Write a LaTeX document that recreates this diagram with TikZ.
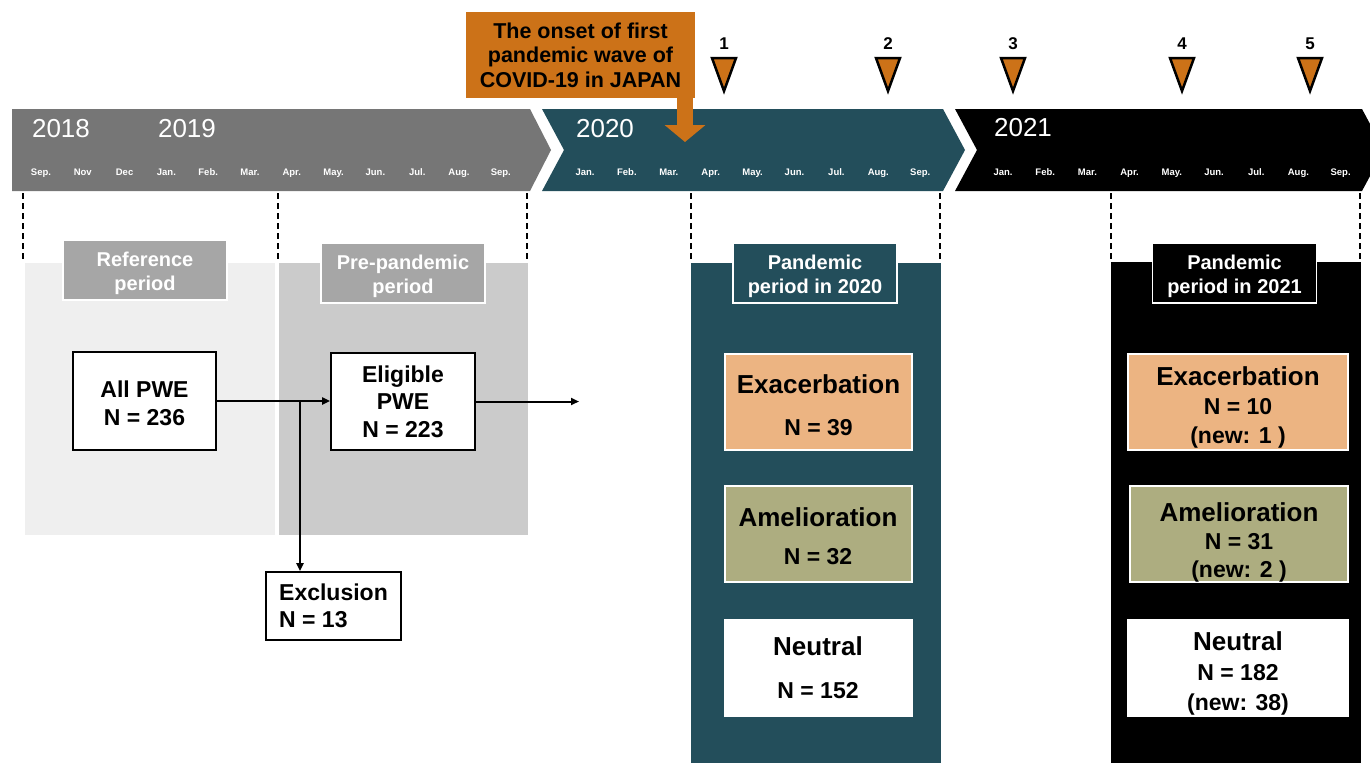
\documentclass[tikz,border=0pt]{standalone}
\usepackage{fontspec}
\setmainfont{Liberation Sans}
\usetikzlibrary{positioning,arrows.meta}
\definecolor{Band}{HTML}{767676}
\definecolor{Teal}{HTML}{234E5B}
\definecolor{RefFill}{HTML}{EFEFEF}
\definecolor{PreFill}{HTML}{CBCBCB}
\definecolor{TagGray}{HTML}{A6A6A6}
\definecolor{Onset}{HTML}{CC7218}
\definecolor{Peach}{HTML}{ECB482}
\definecolor{Olive}{HTML}{ADAD80}
\newcommand\catfont{\fontsize{26}{30}\selectfont}
% taller first line, pushes the text block down in its box
\newcommand\toppad[1]{\rule{0pt}{#1}}

\begin{document}
\begin{tikzpicture}[x=1pt, y=-1pt, every node/.style={font=\bfseries}]
  \tikzstyle{year}=[text=white, font=\fontsize{26}{30}\selectfont]
  \tikzstyle{month}=[text=white, anchor=base, font=\fontsize{9.5}{11}\selectfont\bfseries]
  \tikzstyle{cut}=[line width=1.5pt, dash pattern=on 6pt off 4pt]
  \tikzstyle{tag}=[draw=white, line width=1.5pt, text=white, minimum width=164, minimum height=60, align=center, font=\fontsize{20}{24}\selectfont\bfseries]
  \tikzstyle{box}=[draw=black, line width=1.8pt, fill=white, align=center, inner sep=0, font=\fontsize{23}{27.5}\selectfont\bfseries]
  \tikzstyle{cat}=[draw=white, line width=2pt, minimum width=187, minimum height=96, align=center, inner sep=0, font=\fontsize{23}{28}\selectfont\bfseries]
  \tikzstyle{flow}=[-{Triangle[length=8pt, width=7pt]}, line width=2pt]
  \tikzstyle{onset}=[fill=Onset, minimum width=229, minimum height=86, inner sep=0, align=center, font=\fontsize{21.5}{24.5}\selectfont\bfseries]
  \tikzstyle{onsetarrow}=[draw=Onset, line width=16pt, -{Triangle[width=40pt, length=17pt]}]
  \tikzstyle{wave}=[fill=Onset, draw=black, line width=2.5pt]
  \tikzstyle{wavenum}=[font=\fontsize{17}{20}\selectfont\bfseries]

  \useasboundingbox (0,0) rectangle (1370,763);

  % timeline
  \fill[Band] (12,109) -- (530,109) -- (551,150) -- (530,191) -- (12,191) -- cycle;
  \fill[Teal] (542,109) -- (943,109) -- (965,150) -- (943,191) -- (542,191) -- (564,150) -- cycle;
  \fill[black] (955,109) -- (1362,109) -- (1384,150) -- (1362,191) -- (955,191) -- (977,150) -- cycle;

  \node[year] (y18) at (61,129) {2018};
  \node[year] (y19) at (187,129) {2019};
  \node[year] (y20) at (605,129) {2020};
  \node[year] (y21) at (1023,128) {2021};

  \foreach \m [count=\i from 0] in {Sep.,Nov,Dec,Jan.,Feb.,Mar.,Apr.,May.,Jun.,Jul.,Aug.,Sep.}
    \node[month] (ma\i) at ({41+41.8*\i},175) {\m};
  \foreach \m [count=\i from 0] in {Jan.,Feb.,Mar.,Apr.,May.,Jun.,Jul.,Aug.,Sep.}
    \node[month] (mb\i) at ({585+41.9*\i},175) {\m};
  \foreach \m [count=\i from 0] in {Jan.,Feb.,Mar.,Apr.,May.,Jun.,Jul.,Aug.,Sep.}
    \node[month] (mc\i) at ({1003+42.2*\i},175) {\m};

  \foreach \x in {23,278,527,691,940,1111,1360}
    \draw[cut] (\x,193) -- (\x,262);

  % periods
  \fill[RefFill] (25,263) rectangle (275,535);
  \fill[PreFill] (279,263) rectangle (528,535);
  \fill[Teal] (691,263) rectangle (941,763);
  \fill[black] (1111,262) rectangle (1361,763);

  \node[tag, fill=TagGray] (reftag) at (145,270) {\toppad{22pt}Reference\\period};
  \node[tag, fill=TagGray] (pretag) at (403,273) {\toppad{22pt}Pre-pandemic\\period};
  \node[tag, fill=Teal] (tag20) at (815,273) {\toppad{22pt}Pandemic\\period in 2020};
  \node[tag, fill=black] (tag21) at (1234.5,273) {\toppad{22pt}Pandemic\\period in 2021};

  % cohort
  \node[box, minimum width=143, minimum height=98] (allpwe) at (144.5,401) {\toppad{21pt}All PWE\\N = 236};
  \node[box, minimum width=144, minimum height=97] (eligible) at (403,401.5) {Eligible\\PWE\\N = 223};
  \node[box, minimum width=135, minimum height=68, align=left] (excl) at (333.5,606) {Exclusion\\N = 13};

  \coordinate (split) at (300,401);
  \coordinate (onward) at (579,401.5);
  \draw[flow] (allpwe.east) -- (allpwe.east -| eligible.west);
  \draw[flow] (split) -- (split |- excl.north);
  \draw[flow] (eligible.east) -- (onward);

  % groups in 2020
  \node[cat, fill=Peach] (ex20) at (818.5,402) {{\catfont\toppad{26pt}Exacerbation}\\[14pt]N = 39};
  \node[cat, fill=Olive] (am20) at (818,534) {{\catfont\toppad{23pt}Amelioration}\\[10pt]N = 32};
  \node[cat, fill=white] (ne20) at (818,667.5) {{\catfont Neutral}\\[15pt]N = 152};

  % groups in 2021
  \node[cat, fill=Peach, minimum width=220, font=\fontsize{23}{29}\selectfont\bfseries] (ex21) at (1238,402) {{\catfont\toppad{30pt}Exacerbation}\\N = 10\\(new: 1 )};
  \node[cat, fill=Olive, minimum width=218, font=\fontsize{23}{28}\selectfont\bfseries] (am21) at (1239,534) {{\catfont\toppad{35pt}Amelioration}\\N = 31\\(new: 2 )};
  \node[cat, fill=white, minimum width=220, font=\fontsize{23}{30}\selectfont\bfseries] (ne21) at (1238,667.5) {{\catfont\toppad{31pt}Neutral}\\N = 182\\(new: 38)};

  % onset of the first wave
  \node[onset] (onset) at (580.5,55) {The onset of first\\pandemic wave of\\COVID-19 in JAPAN};
  \coordinate (onsettip) at (685,142);
  \draw[onsetarrow] (onset.south -| onsettip) -- (onsettip);

  % waves
  \foreach \i/\x in {1/724,2/888,3/1013,4/1182,5/1310} {
    \node[wavenum] (w\i) at (\x,44) {\i};
    \draw[wave] (\x-12,58) -- (\x+12,58) -- (\x,91) -- cycle;
  }
\end{tikzpicture}
\end{document}
